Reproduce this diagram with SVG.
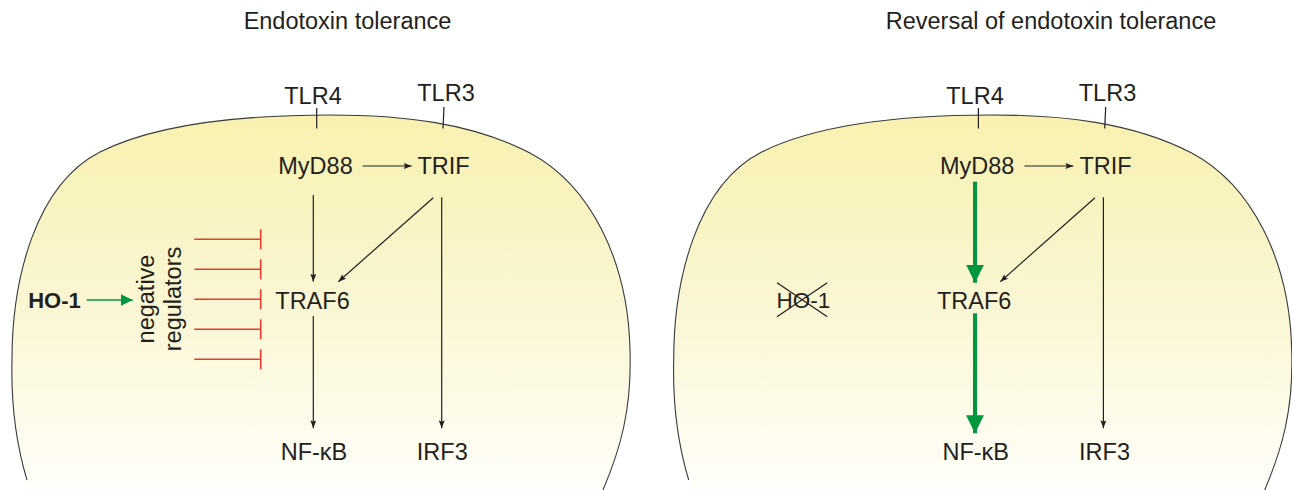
<svg xmlns="http://www.w3.org/2000/svg" width="1292" height="490" viewBox="0 0 1292 490">
<style>
.t{font-family:"Liberation Sans",Arial,sans-serif;font-size:23.5px;fill:#231f20;text-anchor:middle}
.b{font-weight:bold;font-size:22px}
.k{stroke:#231f20;stroke-width:1.2;fill:none}
.g{stroke:#00963f;fill:none}
.r{stroke:#e63b30;stroke-width:1.6;fill:none}
.cell{stroke:#3a3a3a;stroke-width:1.1;fill:none}
</style>
<defs>
<linearGradient id="fillg" x1="0" y1="115" x2="0" y2="485" gradientUnits="userSpaceOnUse">
<stop offset="0" stop-color="#f8f1b0"/>
<stop offset="0.5" stop-color="#faf6d2"/>
<stop offset="1" stop-color="#fffef8"/>
</linearGradient>
<path id="cellFill" d="M27,480 C15,440 11,400 12,360 C12,280 35,185 100,152 C160,122 250,115 330,115 C400,115 470,122 530,153 C590,185 628,260 630,350 C632,410 620,450 603,490 L27,490 Z"/>
<path id="cellLine" d="M27,480 C15,440 11,400 12,360 C12,280 35,185 100,152 C160,122 250,115 330,115 C400,115 470,122 530,153 C590,185 628,260 630,350 C632,410 620,450 603,490"/>
<marker id="ak" markerUnits="userSpaceOnUse" markerWidth="9" markerHeight="7" refX="8" refY="3" orient="auto">
<path d="M0,0 L8,3 L0,6 L1.5,3 Z" fill="#231f20"/>
</marker>
<marker id="ag" markerUnits="userSpaceOnUse" markerWidth="13" markerHeight="13" refX="12" refY="6" orient="auto">
<path d="M0,0 L12,6 L0,12 Z" fill="#00963f"/>
</marker>
<marker id="agb" markerUnits="userSpaceOnUse" markerWidth="19" markerHeight="19" refX="18" refY="9" orient="auto">
<path d="M0,0 L18,9 L0,18 Z" fill="#00963f"/>
</marker>
<marker id="tbar" markerUnits="userSpaceOnUse" markerWidth="4" markerHeight="22" refX="2" refY="11" orient="auto">
<path d="M2,1 V21" stroke="#e63b30" stroke-width="1.6"/>
</marker>
</defs>

<g id="cells">
<use href="#cellFill" fill="url(#fillg)"/>
<use href="#cellLine" class="cell"/>
<g transform="translate(661.7,0)">
<use href="#cellFill" fill="url(#fillg)"/>
<use href="#cellLine" class="cell"/>
</g>
</g>

<g id="titles">
<text class="t" x="347.5" y="29">Endotoxin tolerance</text>
<text class="t" x="1051" y="29">Reversal of endotoxin tolerance</text>
</g>

<g id="connectors">
<!-- left panel -->
<line class="k" x1="316.7" y1="108" x2="316.7" y2="128.5"/>
<line class="k" x1="444" y1="107" x2="443" y2="128.5"/>
<line class="k" x1="362.7" y1="166" x2="411.7" y2="166" marker-end="url(#ak)"/>
<line class="k" x1="313.3" y1="195" x2="313.3" y2="281.7" marker-end="url(#ak)"/>
<line class="k" x1="433.3" y1="197.7" x2="338.3" y2="281.7" marker-end="url(#ak)"/>
<line class="k" x1="441.7" y1="197.3" x2="441.7" y2="428.3" marker-end="url(#ak)"/>
<line class="k" x1="313.3" y1="316" x2="313.3" y2="428.3" marker-end="url(#ak)"/>
<line class="g" stroke-width="1.5" x1="86.7" y1="300" x2="132.7" y2="300" marker-end="url(#ag)"/>
<line class="r" x1="194.3" y1="239.3" x2="260.7" y2="239.3" marker-end="url(#tbar)"/>
<line class="r" x1="194.3" y1="269.3" x2="260.7" y2="269.3" marker-end="url(#tbar)"/>
<line class="r" x1="194.3" y1="299.3" x2="260.7" y2="299.3" marker-end="url(#tbar)"/>
<line class="r" x1="194.3" y1="329.3" x2="260.7" y2="329.3" marker-end="url(#tbar)"/>
<line class="r" x1="194.3" y1="359.3" x2="260.7" y2="359.3" marker-end="url(#tbar)"/>
<!-- right panel -->
<line class="k" x1="978.4" y1="108" x2="978.4" y2="128.5"/>
<line class="k" x1="1105.7" y1="107" x2="1104.7" y2="128.5"/>
<line class="k" x1="1024.4" y1="166" x2="1073.4" y2="166" marker-end="url(#ak)"/>
<line class="g" stroke-width="4" x1="975" y1="181.7" x2="975" y2="282.7" marker-end="url(#agb)"/>
<line class="k" x1="1095" y1="197.7" x2="1000.3" y2="281.7" marker-end="url(#ak)"/>
<line class="k" x1="1103.4" y1="197.3" x2="1103.4" y2="428.3" marker-end="url(#ak)"/>
<line class="g" stroke-width="4" x1="975" y1="313.3" x2="975" y2="433.3" marker-end="url(#agb)"/>
</g>

<g id="node-left-TLR4"><text class="t" x="313" y="104">TLR4</text></g>
<g id="node-left-TLR3"><text class="t" x="446" y="101">TLR3</text></g>
<g id="node-left-MyD88"><text class="t" x="315.5" y="174">MyD88</text></g>
<g id="node-left-TRIF"><text class="t" x="443.5" y="174">TRIF</text></g>
<g id="node-left-TRAF6"><text class="t" x="312.5" y="308.5">TRAF6</text></g>
<g id="node-left-NFkB"><text class="t" x="314" y="460">NF-κB</text></g>
<g id="node-left-IRF3"><text class="t" x="442.3" y="460">IRF3</text></g>
<g id="node-left-HO1"><text class="t b" x="54.5" y="308.3">HO-1</text></g>
<g id="node-left-negreg">
<text class="t" transform="translate(154,299) rotate(-90)">negative</text>
<text class="t" transform="translate(181,299) rotate(-90)">regulators</text>
</g>

<g id="node-right-TLR4"><text class="t" x="975" y="104">TLR4</text></g>
<g id="node-right-TLR3"><text class="t" x="1107.5" y="101">TLR3</text></g>
<g id="node-right-MyD88"><text class="t" x="977.2" y="174">MyD88</text></g>
<g id="node-right-TRIF"><text class="t" x="1105.5" y="174">TRIF</text></g>
<g id="node-right-TRAF6"><text class="t" x="974.2" y="308.5">TRAF6</text></g>
<g id="node-right-NFkB"><text class="t" x="975.7" y="460">NF-κB</text></g>
<g id="node-right-IRF3"><text class="t" x="1104.5" y="460">IRF3</text></g>
<g id="node-right-HO1">
<text class="t" style="font-size:22.5px" x="803.3" y="308.3">HO-1</text>
<path class="k" d="M777,282.7 L827.3,316.7 M777,316.7 L827.3,282.7"/>
</g>
</svg>
